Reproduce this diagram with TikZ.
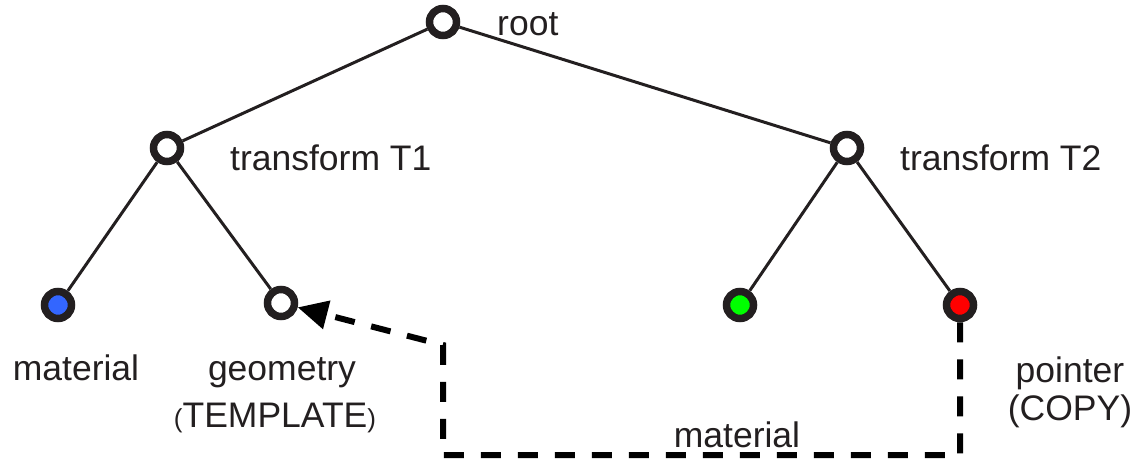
\documentclass[tikz,border=0pt]{standalone}
\usepackage{fontspec}
\setmainfont{Liberation Sans}
\usetikzlibrary{arrows.meta}
\definecolor{ink}{HTML}{231F20}
\definecolor{nblue}{HTML}{3366FF}
\definecolor{ngreen}{HTML}{00FF00}
\definecolor{nred}{HTML}{FF0000}
\begin{document}
\begin{tikzpicture}[x=1pt,y=-1pt,
  treenode/.style={circle,draw=ink,line width=7.5pt,minimum size=27pt,inner sep=0pt},
  edge/.style={draw=ink,line width=3pt},
  lbl/.style={text=ink,font=\fontsize{35.5}{42}\selectfont,inner sep=0pt},
  ptr/.style={draw=black,line width=6pt,dash pattern=on 20pt off 17pt}]
\useasboundingbox (0,0) rectangle (1144,463);
\node[treenode,fill=white] (root) at (443,22) {};
\node[treenode,fill=white] (t1) at (167,148) {};
\node[treenode,fill=white] (t2) at (847,148) {};
\node[treenode,fill=nblue] (mat) at (58,305) {};
\node[treenode,fill=white] (geo) at (281,303) {};
\node[treenode,fill=ngreen] (grn) at (740,305) {};
\node[treenode,fill=nred] (red) at (960,305) {};
\draw[edge] (root) -- (t1);
\draw[edge] (root) -- (t2);
\draw[edge] (t1) -- (mat);
\draw[edge] (t1) -- (geo);
\draw[edge] (t2) -- (grn);
\draw[edge] (t2) -- (red);
\node[lbl,anchor=base west] (lroot) at (497,35) {root};
\node[lbl,anchor=base west] (lt1) at (230,170) {transform T1};
\node[lbl,anchor=base west] (lt2) at (900,170) {transform T2};
\node[lbl,anchor=base] (lmat) at (76,380) {material};
\node[lbl,anchor=base] (lgeo) at (282,380) {geometry};
\node[lbl,anchor=base] (ltpl) at (275,427) {{\fontsize{26}{30}\selectfont(}TEMPLATE{\fontsize{26}{30}\selectfont)}};
\node[lbl,anchor=base] (lptr) at (1070,382) {pointer};
\node[lbl,anchor=base] (lcopy) at (1070,420) {(COPY)};
\node[lbl,anchor=base] (lmat2) at (737,447) {material};
\coordinate (c1) at (960,455);
\coordinate (c2) at (443,345);
\draw[ptr,-{Triangle[length=30pt,width=28pt]}] (red.south) -- (c1) -| (c2) -- (geo);
\end{tikzpicture}
\end{document}
